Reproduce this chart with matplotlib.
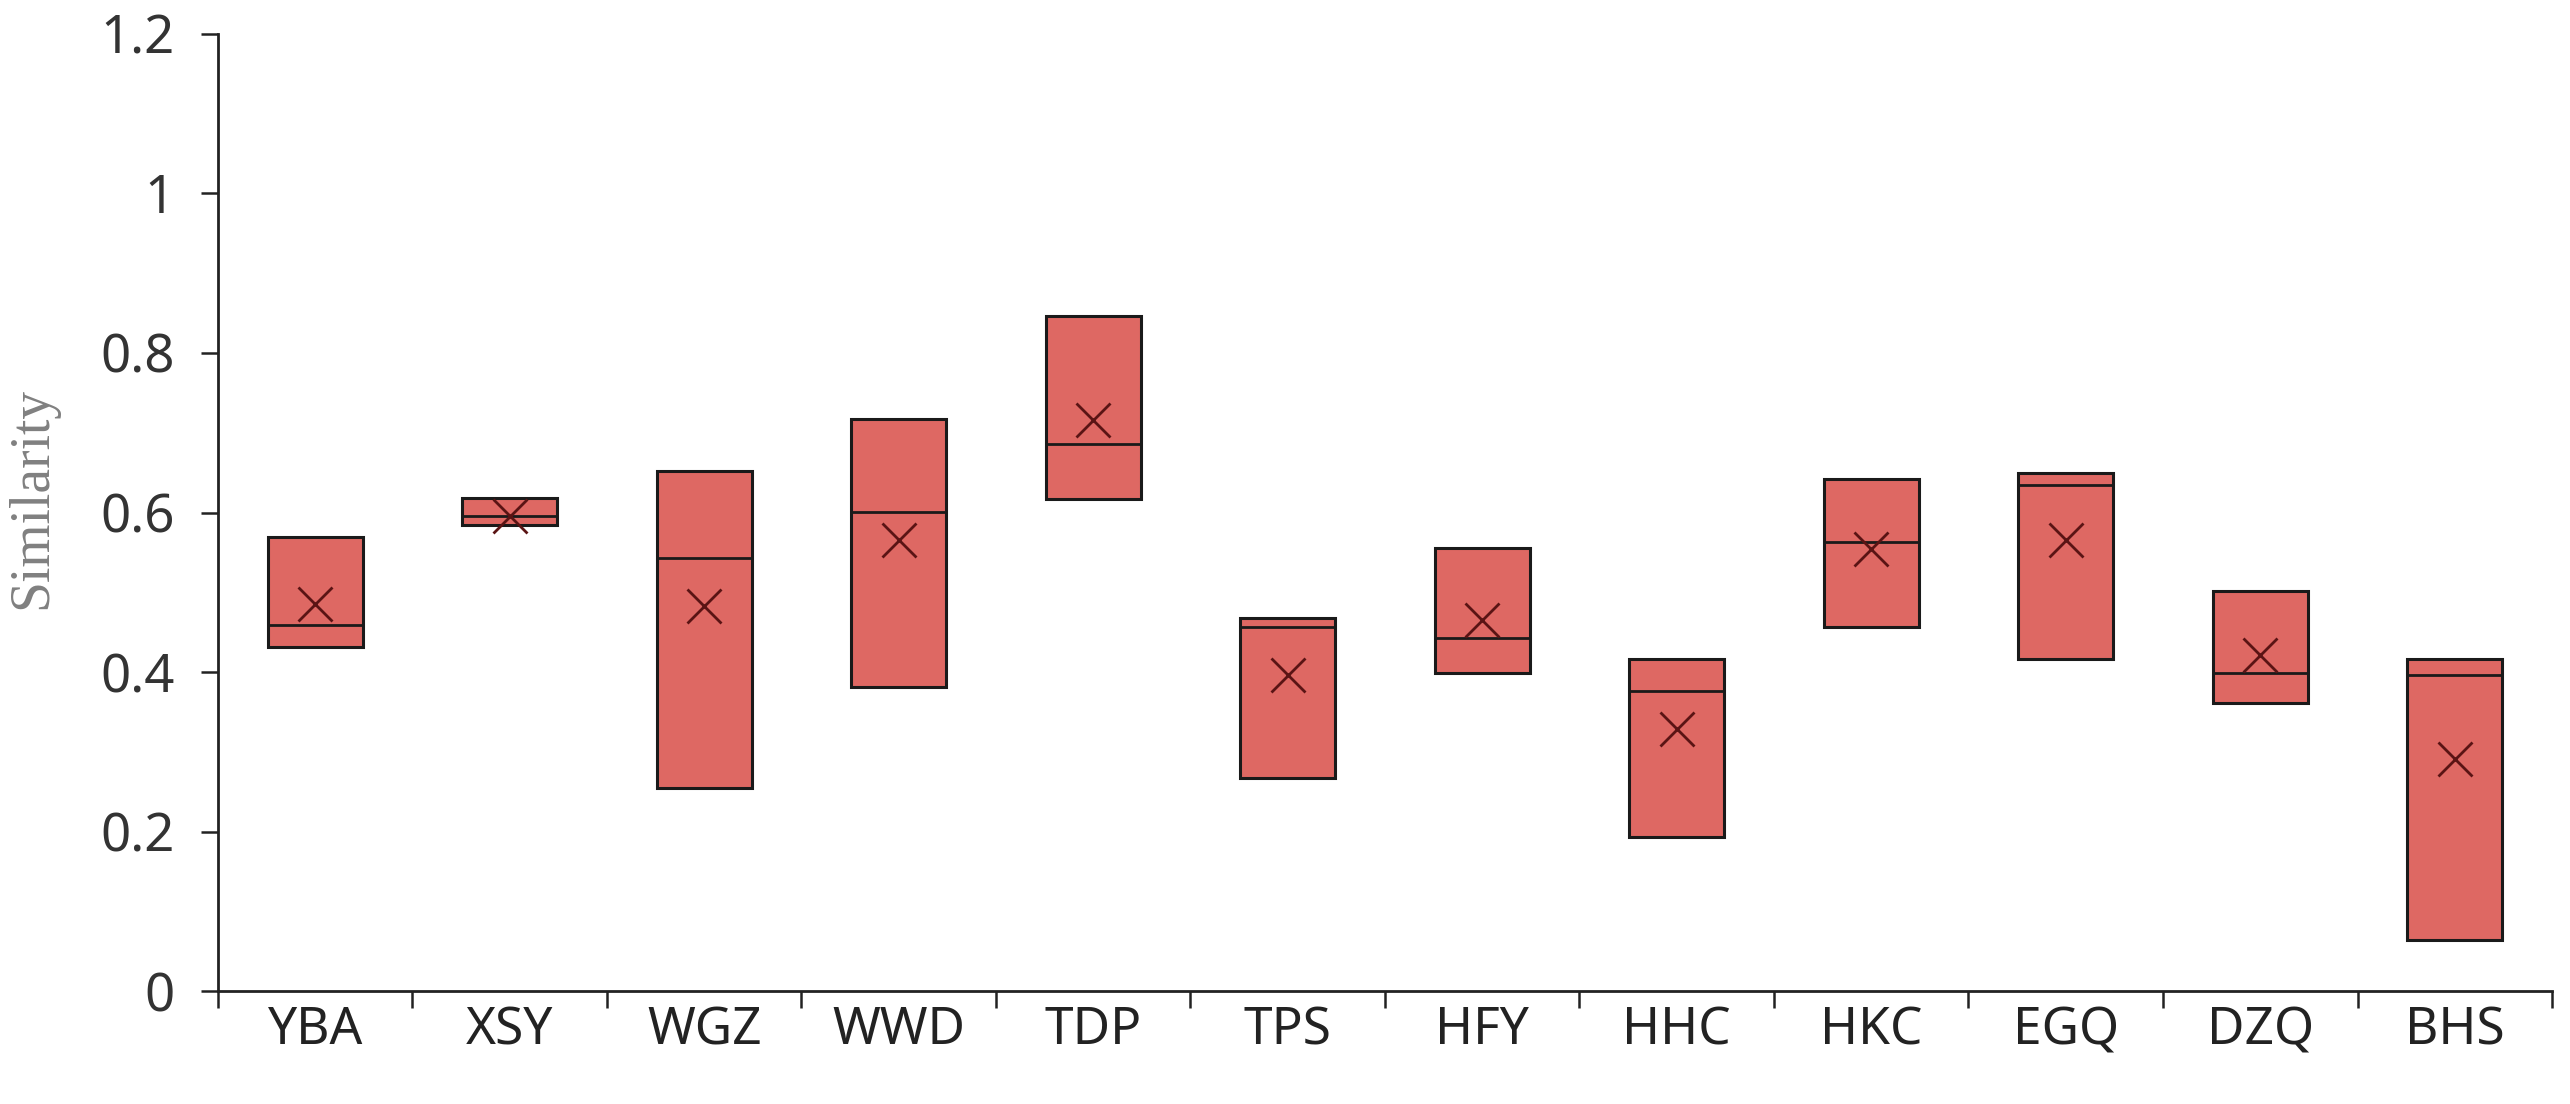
import matplotlib
matplotlib.use("Agg")
import matplotlib.pyplot as plt

categories = ["YBA", "XSY", "WGZ", "WWD", "TDP", "TPS", "HFY", "HHC", "HKC", "EGQ", "DZQ", "BHS"]
q1 =     [0.431, 0.584, 0.255, 0.382, 0.617, 0.267, 0.399, 0.194, 0.457, 0.416, 0.361, 0.065]
q3 =     [0.570, 0.618, 0.652, 0.717, 0.846, 0.468, 0.556, 0.417, 0.642, 0.649, 0.502, 0.416]
median = [0.459, 0.596, 0.543, 0.601, 0.686, 0.457, 0.443, 0.376, 0.563, 0.635, 0.399, 0.397]
mean =   [0.486, 0.596, 0.483, 0.566, 0.716, 0.397, 0.466, 0.329, 0.554, 0.566, 0.421, 0.291]
yticks = [0, 0.2, 0.4, 0.6, 0.8, 1.0, 1.2]
ytick_labels = ["0", "0.2", "0.4", "0.6", "0.8", "1", "1.2"]

fig = plt.figure(figsize=(25.7, 11.04), dpi=100)
ax = fig.add_axes([0.0848, 0.102, 0.9082, 0.8674])

stats = []
for c, a, b, m, mu in zip(categories, q1, q3, median, mean):
    stats.append(dict(label=c, q1=a, q3=b, med=m, mean=mu, whislo=a, whishi=b, fliers=[]))

positions = [i + 0.5 for i in range(len(categories))]
ax.bxp(stats, positions=positions, widths=0.49, patch_artist=True,
       showmeans=True, showcaps=False, showfliers=False,
       boxprops=dict(facecolor="#DE6863", edgecolor="#1a1a1a", linewidth=2.2),
       medianprops=dict(color="#1a1a1a", linewidth=2.0),
       whiskerprops=dict(linewidth=0),
       meanprops=dict(marker="x", markersize=25, markeredgecolor="#5a1414",
                      markeredgewidth=2.0, linestyle="none"))

ax.set_xlim(0, len(categories))
ax.set_ylim(0, 1.2)
ax.set_xticks(range(len(categories) + 1))
ax.set_xticklabels([])
ax.set_xticks(positions, minor=True)
ax.set_xticklabels(categories, minor=True)
ax.tick_params(axis="x", which="major", length=12, width=1.8, direction="out", color="#222222")
ax.tick_params(axis="x", which="minor", length=0, pad=10, labelsize=37, labelcolor="#222222")
ax.set_yticks(yticks)
ax.set_yticklabels(ytick_labels)
ax.tick_params(axis="y", length=12, width=1.8, pad=19, labelsize=38, labelcolor="#333333", color="#222222")
for lab in ax.get_xticklabels(minor=True) + ax.get_yticklabels():
    lab.set_fontfamily("Noto Sans")

for s in ["top", "right"]:
    ax.spines[s].set_visible(False)
for s in ["left", "bottom"]:
    ax.spines[s].set_linewidth(2.0)
    ax.spines[s].set_color("#222222")

ax.set_ylabel("Similarity", fontsize=40, family="Liberation Serif", color="#808080")
ax.yaxis.set_label_coords(-0.0685, 0.515)

fig.savefig("out.png", dpi=100, facecolor="white")
